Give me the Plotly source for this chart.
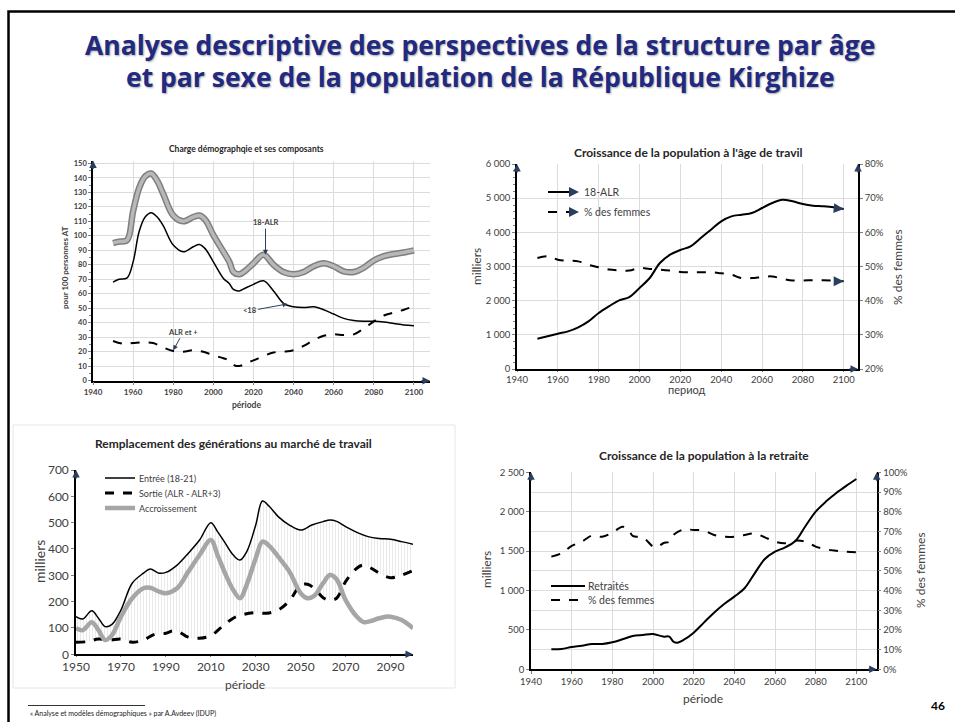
import plotly.graph_objects as go

W, H = 955, 722

# --- chart 1: Charge démographique (pour 100 personnes AT)
c1_total_years = [1950, 1953, 1957, 1960, 1963, 1966, 1969, 1972, 1975, 1980, 1985, 1990, 1993, 1996,
                  2000, 2005, 2008, 2010, 2013, 2016, 2020, 2025, 2030, 2035, 2040, 2045, 2050, 2055,
                  2060, 2065, 2070, 2075, 2080, 2085, 2090, 2095, 2100]
c1_total = [95, 96, 97, 117, 133, 141, 143, 138, 129, 114, 110, 113, 114, 111,
            100.5, 89, 82, 75, 73.5, 76, 81, 87, 80, 75, 73.5, 75, 79, 81,
            79, 75.5, 75, 78, 83, 86, 87.5, 88.5, 90]
c1_young_years = [1950, 1953, 1957, 1960, 1963, 1966, 1969, 1972, 1975, 1980, 1985, 1990, 1993, 1996,
                  2000, 2005, 2008, 2010, 2013, 2016, 2020, 2025, 2030, 2035, 2040, 2045, 2050, 2055,
                  2060, 2065, 2070, 2075, 2080, 2085, 2090, 2095, 2100]
c1_young = [68, 70, 71, 82, 103, 113, 116, 113, 107, 93.6, 89, 92.5, 94, 91,
            82, 70.6, 67, 63, 62, 64, 66.5, 69, 62, 53.4, 51, 50.5, 51, 49,
            46, 43, 41.5, 41, 41, 40.5, 39.5, 38.5, 38]
c1_old_years = [1950, 1955, 1960, 1965, 1970, 1975, 1980, 1985, 1990, 1995, 2000, 2005, 2008, 2011,
                2014, 2017, 2020, 2025, 2030, 2035, 2040, 2045, 2050, 2055, 2060, 2065, 2070, 2075,
                2080, 2085, 2090, 2095, 2100]
c1_old = [27.4, 25.5, 26, 26.5, 26, 23, 20.5, 20, 21, 20, 17.5, 15.5, 14, 10.3,
          10.5, 12.5, 14, 17, 19.5, 20, 21, 24, 28, 31, 32, 31.5, 32, 36,
          41, 45, 47, 49, 51.5]

# --- chart 2: population à l'âge de travail
c2_years = list(range(1950, 2101, 5))
c2_work = [888, 956, 1034, 1102, 1220, 1395, 1640, 1834, 2010, 2107, 2371, 2663, 3102, 3346, 3483,
           3590, 3834, 4078, 4322, 4468, 4517, 4566, 4712, 4859, 4956, 4907, 4829, 4780, 4761, 4732, 4680]
c2_fem = [52.5, 53, 52, 51.7, 51.5, 50.5, 49.8, 49.1, 48.9, 48.8, 49.6, 49.3, 49.1, 48.8, 48.4,
          48.3, 48.3, 48.3, 48, 47.6, 46.6, 46.6, 46.9, 47.1, 46.4, 45.9, 45.9, 46, 46, 45.9, 45.7]

# --- chart 3: remplacement des générations (milliers)
c3_in_years = [1950, 1953, 1957, 1960, 1963, 1966, 1970, 1975, 1980, 1983, 1987, 1990, 1995, 2000,
               2005, 2010, 2013, 2016, 2020, 2023, 2026, 2030, 2033, 2036, 2040, 2045, 2050, 2055,
               2060, 2063, 2066, 2070, 2075, 2080, 2085, 2090, 2095, 2100]
c3_in = [143, 134, 165, 137, 105, 114, 168, 270, 308, 324, 308, 311, 339, 384,
         434, 500, 466, 428, 377, 358, 390, 491, 582, 562, 523, 491, 472, 491,
         504, 510, 505, 485, 463, 447, 440, 437, 428, 418]
c3_out_years = [1950, 1955, 1960, 1965, 1970, 1975, 1980, 1985, 1990, 1993, 1996, 2000, 2005, 2010,
                2015, 2020, 2025, 2030, 2035, 2040, 2045, 2050, 2053, 2056, 2060, 2063, 2066, 2070,
                2075, 2078, 2081, 2085, 2090, 2095, 2100]
c3_out = [46, 48, 58, 54, 58, 46, 54, 76, 80, 89, 84, 65, 61, 71,
          105, 137, 152, 158, 156, 168, 203, 263, 266, 251, 215, 206, 213, 276,
          327, 339, 329, 308, 291, 301, 318]
c3_gain_years = [1950, 1953, 1957, 1960, 1963, 1966, 1970, 1975, 1980, 1983, 1987, 1990, 1995, 2000,
                 2005, 2010, 2013, 2016, 2020, 2023, 2026, 2030, 2033, 2036, 2040, 2045, 2050, 2053,
                 2056, 2060, 2063, 2066, 2070, 2075, 2078, 2081, 2085, 2090, 2095, 2100]
c3_gain = [99, 92, 122, 92, 54, 73, 143, 213, 251, 253, 238, 232, 251, 314,
           377, 434, 377, 315, 244, 213, 265, 365, 428, 412, 371, 314, 232, 213,
           222, 270, 301, 285, 206, 143, 122, 126, 137, 143, 130, 99]

# --- chart 4: population à la retraite
c4_ret_years = [1950, 1955, 1960, 1965, 1970, 1975, 1980, 1985, 1990, 1995, 2000, 2005, 2008, 2010,
                2012, 2015, 2020, 2025, 2030, 2035, 2040, 2045, 2050, 2055, 2060, 2065, 2070, 2075,
                2080, 2085, 2090, 2095, 2100]
c4_ret = [254, 258, 283, 300, 321, 321, 343, 381, 423, 436, 448, 415, 415, 351,
          338, 372, 465, 592, 719, 829, 922, 1028, 1218, 1400, 1493, 1548, 1629, 1819,
          2001, 2128, 2234, 2327, 2415]
c4_fem_years = [1950, 1955, 1960, 1965, 1970, 1975, 1980, 1985, 1988, 1990, 1995, 2000, 2002, 2005,
                2008, 2010, 2015, 2020, 2025, 2030, 2035, 2040, 2045, 2050, 2055, 2060, 2065, 2070,
                2075, 2080, 2085, 2090, 2095, 2100]
c4_fem = [57.2, 58.9, 62.6, 64.8, 67.9, 67.3, 69.4, 72.4, 71, 67.7, 67, 62.3, 61.9, 64,
          64.8, 68.2, 71, 70.7, 70.4, 68.2, 67.3, 67.3, 68.2, 69, 67, 64.8, 64, 65.3,
          64.8, 62.3, 60.9, 60.2, 59.7, 59.4]


def px(p):
    return p / W


def py(p):
    return 1 - p / H


FONT = "Lato, 'Open Sans', sans-serif"
GRID = "#dcdcdc"
TXT = "#404040"

fig = go.Figure()

# chart 1 traces
fig.add_trace(go.Scatter(x=c1_total_years, y=c1_total, xaxis="x", yaxis="y", mode="lines",
                         line=dict(color="#7f7f7f", width=6.5, shape="spline"), showlegend=False))
fig.add_trace(go.Scatter(x=c1_total_years, y=c1_total, xaxis="x", yaxis="y", mode="lines",
                         line=dict(color="#b8b8b8", width=3.5, shape="spline"), showlegend=False))
fig.add_trace(go.Scatter(x=c1_young_years, y=c1_young, xaxis="x", yaxis="y", mode="lines",
                         line=dict(color="black", width=1.5, shape="spline"), showlegend=False))
fig.add_trace(go.Scatter(x=c1_old_years, y=c1_old, xaxis="x", yaxis="y", mode="lines",
                         line=dict(color="black", width=2, dash="dash", shape="spline"), showlegend=False))

# chart 2 traces
fig.add_trace(go.Scatter(x=c2_years, y=c2_work, xaxis="x2", yaxis="y2", mode="lines",
                         line=dict(color="black", width=2, shape="spline"), showlegend=False))
fig.add_trace(go.Scatter(x=c2_years, y=c2_fem, xaxis="x2", yaxis="y3", mode="lines",
                         line=dict(color="black", width=2, dash="dash", shape="spline"), showlegend=False))

# chart 3 traces (Entrée filled down to Sortie with a vertical hatch)
fig.add_trace(go.Scatter(x=c3_out_years, y=c3_out, xaxis="x3", yaxis="y4", mode="lines",
                         showlegend=False,
                         line=dict(color="black", width=3, dash="dash", shape="spline")))
fig.add_trace(go.Scatter(x=c3_in_years, y=c3_in, xaxis="x3", yaxis="y4", mode="lines",
                         showlegend=False,
                         fill="tonexty", fillcolor="rgba(0,0,0,0)",
                         fillpattern=dict(shape="|", fgcolor="#c4c4c4", bgcolor="white", size=3, solidity=0.25),
                         line=dict(color="black", width=1.5, shape="spline")))
fig.add_trace(go.Scatter(x=c3_gain_years, y=c3_gain, xaxis="x3", yaxis="y4", mode="lines",
                         showlegend=False,
                         line=dict(color="#a6a6a6", width=4.5, shape="spline")))

# chart 4 traces
fig.add_trace(go.Scatter(x=c4_ret_years, y=c4_ret, xaxis="x4", yaxis="y6", mode="lines",
                         showlegend=False,
                         line=dict(color="black", width=2, shape="spline")))
fig.add_trace(go.Scatter(x=c4_fem_years, y=c4_fem, xaxis="x4", yaxis="y7", mode="lines",
                         showlegend=False,
                         line=dict(color="black", width=2, dash="dash", shape="spline")))


def xax(dom, rng, anchor, size, dtick=20, tick0=1940, grid=True, weight="normal", ticklen=3):
    return dict(domain=dom, range=rng, anchor=anchor, tick0=tick0, dtick=dtick, automargin=False,
                showgrid=grid, gridcolor=GRID, showline=True, linecolor="black", linewidth=1.5,
                ticks="outside", ticklen=ticklen, tickcolor="#808080", zeroline=False,
                tickfont=dict(size=size, color=TXT, family=FONT, weight=weight))


def yax(dom, rng, anchor, size, dtick, grid=True, weight="normal", **kw):
    d = dict(domain=dom, range=rng, anchor=anchor, dtick=dtick, tick0=0, automargin=False,
             showgrid=grid, gridcolor=GRID, showline=True, linecolor="black", linewidth=1.5,
             ticks="outside", ticklen=3, tickcolor="#808080", zeroline=False,
             tickfont=dict(size=size, color=TXT, family=FONT, weight=weight))
    d.update(kw)
    return d


d1x, d1y = [px(93), px(430)], [py(380.7), py(160.5)]
d2x, d2y = [px(517), px(858)], [py(369), py(164)]
d3x, d3y = [px(76), px(413)], [py(654.3), py(470)]
d4x, d4y = [px(531), px(876.7)], [py(669.3), py(472.3)]

fig.update_layout(
    width=W, height=H, margin=dict(l=0, r=0, t=0, b=0, autoexpand=False),
    paper_bgcolor="white", plot_bgcolor="white",
    font=dict(family=FONT, color=TXT),
    separators=", ",
    showlegend=False,
    xaxis=xax(d1x, [1940, 2108], "y", 8, weight="bold"),
    yaxis=yax(d1y, [0, 152], "x", 7.5, 10, weight="bold",
              minor=dict(dtick=5, ticks="outside", ticklen=2, tickcolor="#808080", showgrid=False)),
    xaxis2=xax(d2x, [1940, 2107], "y2", 9.5, ticklen=1),
    yaxis2=yax(d2y, [0, 6000], "x2", 9.5, 1000, separatethousands=True,
               minor=dict(dtick=200, ticks="outside", ticklen=2, tickcolor="#808080", showgrid=False)),
    yaxis3=yax(d2y, [20, 80], "x2", 9.5, 10, grid=False,
               overlaying="y2", side="right", tick0=20, ticksuffix="%"),
    xaxis3=xax(d3x, [1950, 2100], "y4", 12, tick0=1950, grid=False, ticklen=1),
    yaxis4=yax(d3y, [0, 700], "x3", 12, 100, grid=False),
    yaxis5=yax(d3y, [0, 700], "x3", 12, 100, grid=False, overlaying="y4", side="right",
               linecolor="#808080", linewidth=1),
    xaxis4=xax(d4x, [1940, 2110], "y6", 9.5),
    yaxis6=yax(d4y, [0, 2500], "x4", 9.5, 500, separatethousands=True,
               minor=dict(dtick=250, showgrid=True, gridcolor=GRID, ticks="")),
    yaxis7=yax(d4y, [0, 100], "x4", 9.5, 10, grid=False,
               overlaying="y6", side="right", ticksuffix="%"),
)

ann = []
shapes = []


def label(text, x, y, size, color=TXT, weight="normal", angle=0, xanchor="center", family=FONT, shadow=None):
    f = dict(size=size, color=color, family=family, weight=weight)
    if shadow:
        f["shadow"] = shadow
    ann.append(dict(text=text, x=px(x), y=py(y), xref="paper", yref="paper", showarrow=False,
                    xanchor=xanchor, yanchor="middle", textangle=angle, font=f))


# slide title
for txt, y in [("Analyse descriptive des perspectives de la structure par âge", 45),
               ("et par sexe de la population de la République Kirghize", 77)]:
    label(txt, 480, y, 26.5, color="#212a80", weight="bold", family="'Open Sans', Lato, sans-serif",
          shadow="1px 1px 2px rgba(0,0,0,0.35)")

# chart titles
label("Charge démographqie et ses composants", 247, 149, 8.5, color="#262626", weight="bold")
label("Croissance de la population à l'âge de travil", 688, 153, 12, color="#262626", weight="bold")
label("Remplacement des générations au marché de travail", 233, 443, 12, color="#262626", weight="bold")
label("Croissance de la population à la retraite", 704, 455, 12, color="#262626", weight="bold")

# axis titles
label("période", 247, 405, 8.5, weight="bold")
label("pour 100 personnes AT", 65, 268, 8, weight="bold", angle=-90)
label("период", 687, 389, 11)
label("milliers", 476, 267, 12, angle=-90)
label("% des femmes", 897, 267, 12, angle=-90)
label("période", 245, 684, 12)
label("milliers", 39, 562, 14, angle=-90)
label("période", 703, 698, 12)
label("milliers", 486, 570, 12, angle=-90)
label("% des femmes", 920, 570, 12, angle=-90)

# chart 1 labels with arrows
for txt, x, y, ax, ay in [("18-ALR", 2026, 87, 0, -32), ("<18", 2037, 53, -38, 7), ("ALR et +", 1980, 21, 10, -18)]:
    ann.append(dict(text=txt, x=x, y=y, xref="x", yref="y", ax=ax, ay=ay, showarrow=True,
                    arrowhead=2, arrowsize=1, arrowwidth=1, font=dict(size=7.5, color=TXT, weight="bold")))

# axis end arrows
for xr, yr in [("x", "y"), ("x2", "y2"), ("x3", "y4"), ("x4", "y6")]:
    ann.append(dict(text="", x=1, y=0, xref=xr + " domain", yref=yr + " domain", ax=-10, ay=0,
                    showarrow=True, arrowhead=2, arrowsize=1, arrowwidth=1.5))
    ann.append(dict(text="", x=0, y=1, xref=xr + " domain", yref=yr + " domain", ax=0, ay=10,
                    showarrow=True, arrowhead=2, arrowsize=1, arrowwidth=1.5))
for xr, yr in [("x2", "y2"), ("x4", "y6")]:
    ann.append(dict(text="", x=1, y=1, xref=xr + " domain", yref=yr + " domain", ax=0, ay=10,
                    showarrow=True, arrowhead=2, arrowsize=1, arrowwidth=1.5))

# chart 2 line end arrows
ann.append(dict(text="", x=c2_years[-1], y=c2_work[-1], xref="x2", yref="y2", ax=-10, ay=-1,
                showarrow=True, arrowhead=2, arrowsize=1, arrowwidth=2))
ann.append(dict(text="", x=c2_years[-1], y=c2_fem[-1], xref="x2", yref="y3", ax=-10, ay=0,
                showarrow=True, arrowhead=2, arrowsize=1, arrowwidth=2))

# chart 2 legend (lines with arrow heads)
for yy, dash, name in [(192, "solid", "18-ALR"), (212, "dash", "% des femmes")]:
    shapes.append(dict(type="line", xref="paper", yref="paper", x0=px(548), x1=px(572), y0=py(yy), y1=py(yy),
                       line=dict(color="black", width=2, dash=dash)))
    ann.append(dict(text="", x=px(579), y=py(yy), xref="paper", yref="paper", ax=-8, ay=0,
                    showarrow=True, arrowhead=2, arrowsize=1, arrowwidth=2))
    label(name, 582, yy, 10.5, xanchor="left")

# chart 3 legend
for yy, col, wid, dash, name in [(478, "black", 1.5, "solid", "Entrée (18-21)"),
                                 (493, "black", 3, "dash", "Sortie (ALR - ALR+3)"),
                                 (508, "#a6a6a6", 4.5, "solid", "Accroissement")]:
    shapes.append(dict(type="line", xref="paper", yref="paper", x0=px(105), x1=px(135), y0=py(yy), y1=py(yy),
                       line=dict(color=col, width=wid, dash=dash)))
    label(name, 137, yy, 9, xanchor="left")

# chart 4 legend
for yy, dash, name in [(586, "solid", "Retraités"), (600, "dash", "% des femmes")]:
    shapes.append(dict(type="line", xref="paper", yref="paper", x0=px(551), x1=px(585), y0=py(yy), y1=py(yy),
                       line=dict(color="black", width=2, dash=dash)))
    label(name, 586, yy, 10.5, xanchor="left")

# footer
label("« Analyse et modèles démographiques » par A.Avdeev (IDUP)", 28, 713, 7, color="#222222", xanchor="left")
label("46", 938, 705, 12, color="black", weight="bold")

# slide frame, chart-3 box and footer rule
shapes.append(dict(type="rect", xref="paper", yref="paper", x0=px(8.5), x1=px(962), y0=py(11.5), y1=py(730),
                   line=dict(color="black", width=2.5)))
shapes.append(dict(type="rect", xref="paper", yref="paper", x0=px(13), x1=px(455), y0=py(425), y1=py(688),
                   line=dict(color="#e6e6e6", width=1)))
shapes.append(dict(type="line", xref="paper", yref="paper", x0=px(28), x1=px(145), y0=py(705.5), y1=py(705.5),
                   line=dict(color="black", width=0.8)))

fig.update_layout(annotations=ann, shapes=shapes)

fig.write_html("out.html", config={"displayModeBar": False},
               post_script="document.body.style.margin='0px';")
